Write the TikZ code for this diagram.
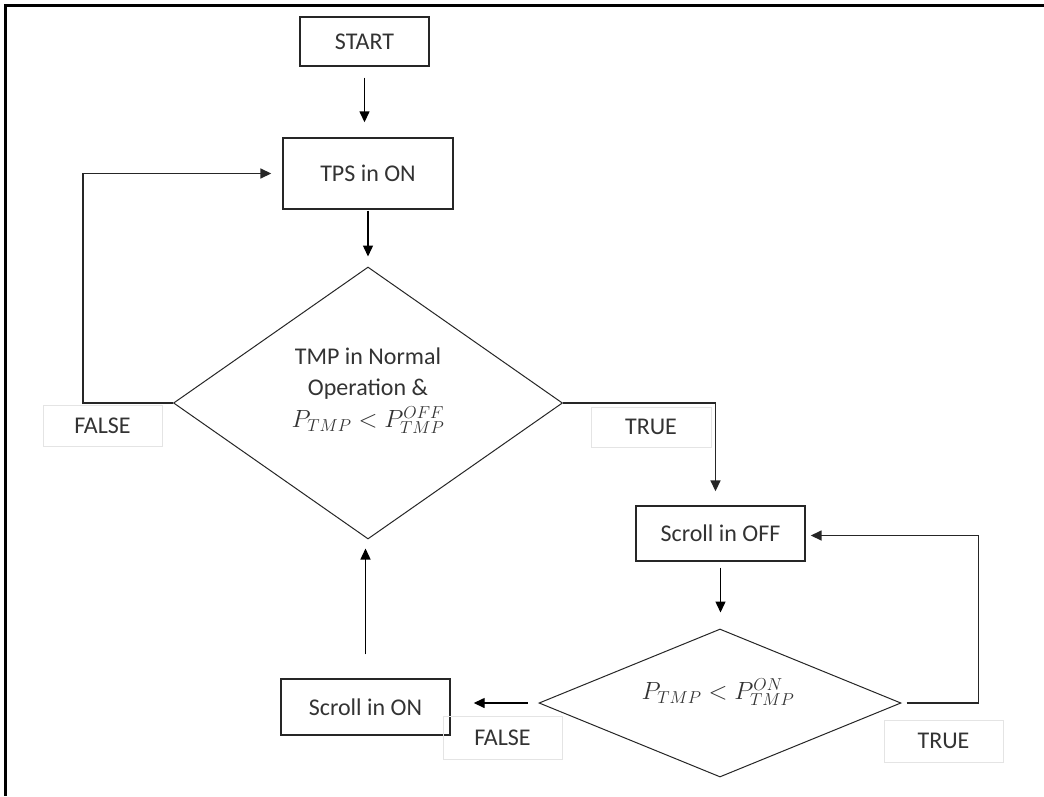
\documentclass[tikz,border=0pt]{standalone}
\usepackage{fontspec}
\setmainfont{Carlito}
\usetikzlibrary{shapes.geometric,arrows.meta,calc}
\definecolor{txt}{HTML}{333333}
\definecolor{lbl}{HTML}{E4E4E4}
\begin{document}
\begin{tikzpicture}[x=1pt,y=-1pt,
  every node/.style={text=txt,font=\fontsize{24}{31}\selectfont},
  procbox/.style={draw=black!85,line width=1.4pt,inner sep=0pt,minimum width=#1},
  decision/.style={draw=black!85,line width=1pt,shape=diamond,inner sep=0pt},
  labelbox/.style={draw=lbl,line width=1pt,inner sep=0pt,minimum width=119pt,minimum height=41pt},
  arr/.style={draw=black,line width=1.4pt,-{Triangle[width=10pt,length=11pt]}},
  link/.style={draw=black!85,line width=1.6pt}
]
\useasboundingbox (0,0) rectangle (1044,796);
\fill[white] (0,0) rectangle (1044,796);
% outer frame (top and left edges)
\draw[line width=3pt] (1044,5) -- (5.5,5) -- (5.5,796);

% process boxes
\node[procbox=129pt,minimum height=49pt] (start) at (364.5,41.5) {START};
\node[procbox=170pt,minimum height=71pt] (tps) at (368,173.5) {TPS in ON};
\node[procbox=169pt,minimum height=55pt] (soff) at (720.5,533.5) {Scroll in OFF};
\node[procbox=169pt,minimum height=56pt] (son) at (365.5,707) {Scroll in ON};

% decisions
\node[decision,minimum width=389pt,minimum height=272pt] (d1) at (368,403) {};
\node[align=center] (d1text) at (368,391) {TMP in Normal\\Operation \&\\[1pt]{\fontsize{25}{31}\selectfont$P_{TMP} < P_{TMP}^{OFF}$}};
\node[decision,minimum width=362pt,minimum height=148pt] (d2) at (720,703) {};
\node[font=\fontsize{25}{31}\selectfont] (d2text) at (718,692) {$P_{TMP} < P_{TMP}^{ON}$};

% labels
\node[labelbox] (f1) at (102.5,425.5) {FALSE};
\node[labelbox,minimum width=120pt,minimum height=40pt] (t1) at (651,427) {TRUE};
\node[labelbox,minimum height=42pt] (t2) at (943.5,741) {TRUE};
\node[labelbox,minimum height=43pt] (f2) at (502.5,737.5) {FALSE};

% connectors
\draw[arr,shorten <=11pt,shorten >=15pt] (start.south) -- (start.south |- tps.north);
\draw[arr,shorten <=1pt,shorten >=10pt] (tps.south) -- (d1.north);
\draw[arr,link,shorten >=11pt] (d1.west) -- ++(-90,0) |- (tps.west);
\draw[arr,link,shorten >=14pt] (d1.east) -| ([xshift=-5pt]soff.north);
\draw[arr,shorten <=6pt,shorten >=16pt] (soff.south) -- (soff.south |- d2.north);
\draw[arr,link,shorten <=5pt,shorten >=5pt] (d2.east) -- ++(77,0) |- ([yshift=-2pt]soff.east);
\draw[arr,shorten <=11pt,shorten >=23pt] (d2.west) -- (d2.west -| son.east);
\draw[arr,shorten <=24pt,shorten >=9pt] (son.north) -- (son.north |- d1.south);
\end{tikzpicture}
\end{document}
